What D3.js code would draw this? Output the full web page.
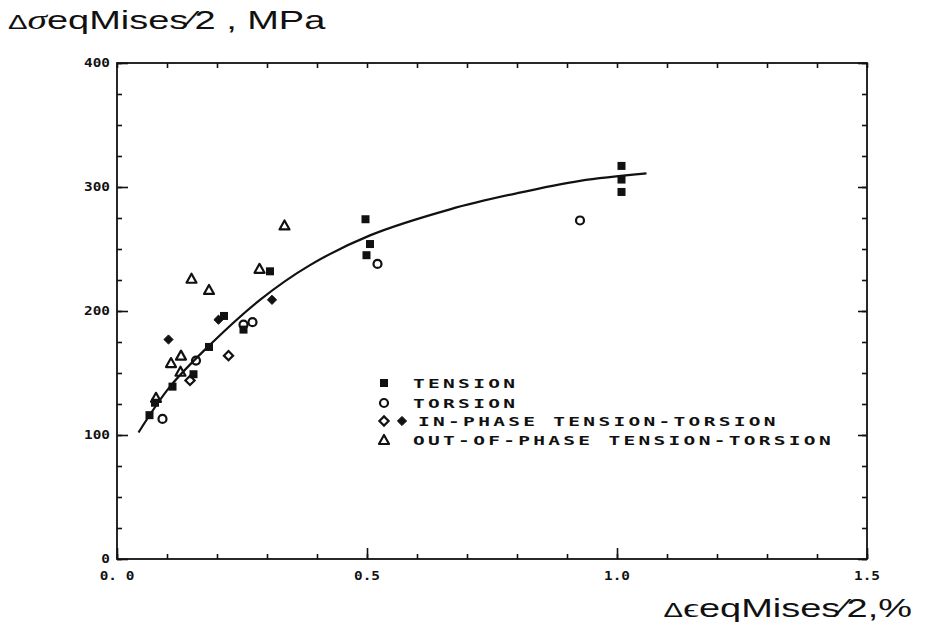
<!DOCTYPE html>
<html>
<head>
<meta charset="utf-8">
<script src="https://cdn.jsdelivr.net/npm/d3@7"></script>
<style>
  body { margin: 0; background: #fff; }
  svg { display: block; }
</style>
</head>
<body>
<svg id="chart" width="926" height="637"></svg>
<script>
// ---- data ----
const xTickValues = [0, 0.5, 1.0, 1.5];
const xTickLabels = ["0. 0", "0.5", "1.0", "1.5"];
const yTickValues = [0, 100, 200, 300, 400];
const yTickLabels = ["0", "100", "200", "300", "400"];

const tension = [[0.065,116],[0.076,126],[0.111,139],[0.153,149],[0.184,171],[0.214,196],
                 [0.253,185],[0.306,232],[0.497,274],[0.506,254],[0.499,245],
                 [1.009,317],[1.009,306],[1.009,296]];
const torsion = [[0.091,113],[0.158,160],[0.253,189],[0.271,191],[0.521,238],[0.926,273]];
const inPhaseOpen = [[0.146,144],[0.223,164]];
const inPhaseFilled = [[0.103,177],[0.203,193],[0.310,209]];
const outOfPhase = [[0.078,130],[0.127,151],[0.108,158],[0.128,164],[0.149,226],
                    [0.184,217],[0.285,234],[0.335,269]];
const fitCurve = [[0.043,102],[0.106,139],[0.184,172],[0.286,209],[0.386,237],
                  [0.506,261],[0.666,282],[0.80,295],[0.926,305],[1.059,311]];
const legendLabels = ["TENSION", "TORSION", "IN-PHASE TENSION-TORSION", "OUT-OF-PHASE TENSION-TORSION"];

// ---- layout ----
const svg = d3.select("#chart");
const pLeft = 117, pRight = 867, pTop = 63, pBottom = 559;
const x = d3.scaleLinear().domain([0, 1.5]).range([pLeft, pRight]);
const y = d3.scaleLinear().domain([0, 400]).range([pBottom, pTop]);
const ink = "#111";
const monoFont = "'DejaVu Sans Mono', monospace";
const sansFont = "'Liberation Sans', Arial, sans-serif";

// frame
svg.append("rect").attr("x", pLeft).attr("y", pTop)
  .attr("width", pRight - pLeft).attr("height", pBottom - pTop)
  .attr("fill", "none").attr("stroke", ink).attr("stroke-width", 1.8);

// minor & major ticks (inward)
const xMinor = d3.range(0, 1.501, 0.1);
const yMinor = d3.range(0, 400.1, 25);
function noLabel(a) { return a.tickFormat(""); }

svg.append("g").attr("transform", `translate(0,${pBottom})`)
  .call(noLabel(d3.axisBottom(x).tickValues(xMinor).tickSize(-5).tickSizeOuter(0)));
svg.append("g").attr("transform", `translate(0,${pBottom})`)
  .call(noLabel(d3.axisBottom(x).tickValues(xTickValues).tickSize(-11).tickSizeOuter(0)));
svg.append("g").attr("transform", `translate(0,${pTop})`)
  .call(noLabel(d3.axisTop(x).tickValues(xMinor).tickSize(-5).tickSizeOuter(0)));
svg.append("g").attr("transform", `translate(${pLeft},0)`)
  .call(noLabel(d3.axisLeft(y).tickValues(yMinor).tickSize(-5).tickSizeOuter(0)));
svg.append("g").attr("transform", `translate(${pLeft},0)`)
  .call(noLabel(d3.axisLeft(y).tickValues(yTickValues).tickSize(-11).tickSizeOuter(0)));
svg.append("g").attr("transform", `translate(${pRight},0)`)
  .call(noLabel(d3.axisRight(y).tickValues(yMinor).tickSize(-5).tickSizeOuter(0)));
svg.append("g").attr("transform", `translate(${pRight},0)`)
  .call(noLabel(d3.axisRight(y).tickValues(yTickValues).tickSize(-9).tickSizeOuter(0)));
svg.selectAll(".domain").remove();
svg.selectAll(".tick line").attr("stroke", ink).attr("stroke-width", 1.6);

// tick labels
svg.append("g").selectAll("text").data(xTickValues).join("text")
  .attr("transform", d => `translate(${x(d)},${pBottom + 21}) scale(1.25,1)`)
  .attr("text-anchor", "middle")
  .attr("font-family", monoFont).attr("font-weight", "bold").attr("font-size", 11.5)
  .attr("fill", ink)
  .text((d, i) => xTickLabels[i]);
svg.append("g").selectAll("text").data(yTickValues).join("text")
  .attr("transform", d => `translate(${pLeft - 7},${y(d) + 4}) scale(1.25,1)`)
  .attr("text-anchor", "end")
  .attr("font-family", monoFont).attr("font-weight", "bold").attr("font-size", 11.5)
  .attr("fill", ink)
  .text((d, i) => yTickLabels[i]);

// fitted curve
svg.append("path").datum(fitCurve)
  .attr("d", d3.line().x(d => x(d[0])).y(d => y(d[1])).curve(d3.curveCatmullRom))
  .attr("fill", "none").attr("stroke", ink).attr("stroke-width", 2.2);

// marker helpers
function square(g, px, py) {
  g.append("rect").attr("x", px - 4).attr("y", py - 4).attr("width", 8).attr("height", 8).attr("fill", ink);
}
function circle(g, px, py) {
  g.append("circle").attr("cx", px).attr("cy", py).attr("r", 4)
    .attr("fill", "none").attr("stroke", ink).attr("stroke-width", 2.2);
}
function diamond(g, px, py, filled) {
  const s = 4.6;
  g.append("path").attr("d", `M${px},${py - s}L${px + s},${py}L${px},${py + s}L${px - s},${py}Z`)
    .attr("fill", filled ? ink : "none").attr("stroke", ink).attr("stroke-width", filled ? 1 : 2.2);
}
function triangle(g, px, py) {
  const s = 5;
  g.append("path").attr("d", `M${px},${py - s}L${px + s},${py + s * 0.8}L${px - s},${py + s * 0.8}Z`)
    .attr("fill", "none").attr("stroke", ink).attr("stroke-width", 2.2).attr("stroke-linejoin", "round");
}

const marks = svg.append("g");
tension.forEach(d => square(marks, x(d[0]), y(d[1])));
torsion.forEach(d => circle(marks, x(d[0]), y(d[1])));
inPhaseOpen.forEach(d => diamond(marks, x(d[0]), y(d[1]), false));
inPhaseFilled.forEach(d => diamond(marks, x(d[0]), y(d[1]), true));
outOfPhase.forEach(d => triangle(marks, x(d[0]), y(d[1])));

// legend
const legend = svg.append("g");
const legRows = [383, 403, 421, 440];
square(legend, 384, legRows[0]);
circle(legend, 384, legRows[1]);
diamond(legend, 384, legRows[2], false);
diamond(legend, 402, legRows[2], true);
triangle(legend, 384, legRows[3]);
legendLabels.forEach((t, i) => {
  legend.append("text")
    .attr("transform", `translate(${i === 2 ? 418 : 413},${legRows[i] + 5}) scale(1.5,1)`)
    .attr("font-family", monoFont).attr("font-weight", "bold").attr("font-size", 13)
    .attr("letter-spacing", 2.2)
    .attr("fill", ink)
    .text(t);
});

// axis titles
const titleStretch = 1.46;
function axisTitle(tx, ty, greek, italic, rest) {
  const t = svg.append("text")
    .attr("transform", `translate(${tx},${ty}) scale(${titleStretch},1)`)
    .attr("font-family", sansFont).attr("font-size", 26).attr("fill", ink);
  t.append("tspan").attr("font-size", 20).text("Δ");
  t.append("tspan").attr("font-style", italic ? "italic" : "normal")
    .attr("font-family", "'Liberation Serif', serif").attr("font-size", 27).text(greek);
  t.append("tspan").text(rest);
  return t;
}
axisTitle(8, 29, "σ", true, "eqMises⁄2 , MPa");
const xt = axisTitle(0, 617, "ϵ", false, "eqMises⁄2,%");
const w = xt.node().getBBox().width * titleStretch;
xt.attr("transform", `translate(${912 - w},617) scale(${titleStretch},1)`);
</script>
</body>
</html>
